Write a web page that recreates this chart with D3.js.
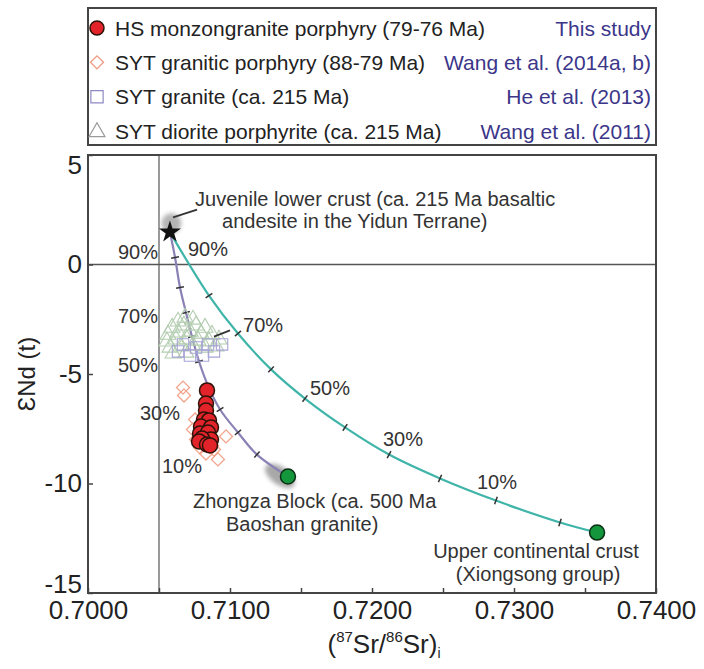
<!DOCTYPE html>
<html>
<head>
<meta charset="utf-8">
<script src="https://cdn.jsdelivr.net/npm/d3@7"></script>
<style>
  html, body { margin: 0; padding: 0; background: #fff; }
  svg { display: block; font-family: "Liberation Sans", Arial, sans-serif; }
</style>
</head>
<body>
<svg id="chart" width="704" height="669"></svg>
<script>
// ---- Sr–Nd isotope data: [(87Sr/86Sr)i, εNd(t)] ----
const hsMonzogranite = [
  [0.70838, -5.75], [0.70831, -6.35], [0.70831, -6.67], [0.70817, -7.08],
  [0.70852, -7.12], [0.70796, -7.40], [0.70866, -7.44], [0.70789, -7.72],
  [0.70845, -7.67], [0.70866, -7.99], [0.70803, -7.95], [0.70782, -8.08],
  [0.70838, -8.22], [0.70859, -8.26]
];
const sytGraniticPorphyry = [
  [0.70669, -5.62], [0.70676, -5.98], [0.70754, -7.08], [0.70739, -7.53],
  [0.70761, -7.99], [0.70789, -8.36], [0.70831, -8.63], [0.70887, -8.45],
  [0.70972, -7.85], [0.70915, -8.90], [0.70810, -7.81], [0.70873, -8.26]
];
const sytGranite = [
  [0.70634, -3.97], [0.70718, -4.16], [0.70810, -4.16], [0.70887, -3.97],
  [0.70944, -3.65], [0.70845, -3.65], [0.70761, -3.79], [0.70669, -3.65]
];
const sytDioritePorphyrite = [
  [0.70683, -2.33], [0.70634, -2.51], [0.70739, -2.42], [0.70592, -2.79],
  [0.70676, -2.69], [0.70761, -2.69], [0.70824, -2.79], [0.70563, -3.11],
  [0.70634, -3.01], [0.70718, -2.97], [0.70796, -3.06], [0.70873, -3.11],
  [0.70556, -3.42], [0.70620, -3.33], [0.70697, -3.33], [0.70775, -3.38],
  [0.70852, -3.42], [0.70923, -3.33], [0.70577, -3.70], [0.70655, -3.65],
  [0.70739, -3.61], [0.70824, -3.70], [0.70901, -3.65], [0.70599, -3.97],
  [0.70690, -3.93]
];

// End-members
const juvenileLowerCrust = [0.70577, 1.48];
const zhongzaBlock = [0.71408, -9.68];
const upperCrust = [0.73585, -12.24];

// Mixing curves, end-member to end-member at 10% steps
const mixToUpperCrust = [
  [0.70577, 1.48], [0.70852, -1.42], [0.71056, -3.15], [0.71289, -4.79],
  [0.71528, -6.12], [0.71810, -7.44], [0.72120, -8.68], [0.72479, -9.77],
  [0.72873, -10.78], [0.73324, -11.78], [0.73585, -12.24]
];
const mixToZhongza = [
  [0.70577, 1.48], [0.70613, 0.32], [0.70648, -1.05], [0.70690, -2.19],
  [0.70732, -3.29], [0.70782, -4.43], [0.70845, -5.53], [0.70930, -6.62],
  [0.71056, -7.67], [0.71190, -8.68], [0.71408, -9.68]
];

// Percentage labels along the curves
const zhongzaPctLabels = ["90%", "70%", "50%", "30%", "10%"];
const zhongzaPctAt = [[0.70493, 0.55], [0.70493, -2.33], [0.70493, -4.61], [0.70648, -6.76], [0.70803, -9.18]];
const crustPctLabels = ["90%", "70%", "50%", "30%", "10%"];
const crustPctAt = [[0.70704, 0.73], [0.71092, -2.74], [0.71563, -5.62], [0.72077, -7.99], [0.72739, -9.91]];

// Axis ticks
const xTicks = [0.700, 0.705, 0.710, 0.715, 0.720, 0.725, 0.730, 0.735, 0.740];
const yTicks = [5, 0, -5, -10, -15];

// Legend
const legendNames = [
  "HS monzongranite porphyry (79-76 Ma)",
  "SYT granitic porphyry (88-79 Ma)",
  "SYT granite (ca. 215 Ma)",
  "SYT diorite porphyrite (ca. 215 Ma)"
];
const legendRefs = ["This study", "Wang et al. (2014a, b)", "He et al. (2013)", "Wang et al. (2011)"];

// ---- layout ----
const svg = d3.select("#chart");
const L = 88, R = 656, T = 155, B = 593;
const x = d3.scaleLinear().domain([0.700, 0.740]).range([L, R]);
const y = d3.scaleLinear().domain([-15, 5]).range([B, T]);

const defs = svg.append("defs");
defs.append("filter").attr("id", "soft").attr("x", "-50%").attr("y", "-50%").attr("width", "200%").attr("height", "200%")
  .append("feGaussianBlur").attr("stdDeviation", 2.2);

// reference lines
svg.append("line").attr("x1", x(0.705)).attr("x2", x(0.705)).attr("y1", T).attr("y2", B)
  .attr("stroke", "#555").attr("stroke-width", 1.2);
svg.append("line").attr("x1", L).attr("x2", R).attr("y1", y(0)).attr("y2", y(0))
  .attr("stroke", "#555").attr("stroke-width", 1.5);

// axes
const fmtX = d3.format(".4f");
const xAxis = d3.axisBottom(x).tickValues(xTicks).tickSizeInner(-5).tickSizeOuter(0).tickPadding(8)
  .tickFormat((d, i) => (i % 2 === 0 ? fmtX(d) : ""));
const gx = svg.append("g").attr("transform", `translate(0,${B})`).call(xAxis);
const yAxis = d3.axisLeft(y).tickValues(yTicks).tickSizeInner(-5).tickSizeOuter(0).tickPadding(6)
  .tickFormat(d => (d < 0 ? "-" + Math.abs(d) : String(d)));
const gy = svg.append("g").attr("transform", `translate(${L},0)`).call(yAxis);
[gx, gy].forEach(g => {
  g.select(".domain").remove();
  g.selectAll(".tick line").attr("stroke", "#444").attr("stroke-width", 1.5);
  g.selectAll(".tick text").attr("fill", "#222").style("font-size", "26px")
    .style("font-family", "'Liberation Sans', Arial, sans-serif");
});
// end labels pulled inside the frame's span
gy.selectAll(".tick text").filter(d => d === 5).attr("y", 10);
gy.selectAll(".tick text").filter(d => d === -15).attr("y", -9);

// frame
svg.append("rect").attr("x", L).attr("y", T).attr("width", R - L).attr("height", B - T)
  .attr("fill", "none").attr("stroke", "#444").attr("stroke-width", 2);

// axis titles
const xt = svg.append("text").attr("x", 384).attr("y", 653).attr("text-anchor", "middle")
  .attr("fill", "#222").style("font-size", "26px");
xt.append("tspan").text("(");
xt.append("tspan").attr("dy", -11).style("font-size", "15px").text("87");
xt.append("tspan").attr("dy", 11).text("Sr/");
xt.append("tspan").attr("dy", -11).style("font-size", "15px").text("86");
xt.append("tspan").attr("dy", 11).text("Sr)");
xt.append("tspan").attr("dy", 5).style("font-size", "14px").text("i");

svg.append("text").attr("transform", `translate(35,${(T + B) / 2}) rotate(-90)`)
  .attr("text-anchor", "middle").attr("fill", "#222").style("font-size", "24px")
  .text("\u0190Nd (t)");

// grey halos around the end-member samples
svg.append("circle").attr("cx", x(0.70587)).attr("cy", y(1.88)).attr("r", 10)
  .attr("fill", "#b4b4b4").attr("filter", "url(#soft)");
svg.append("ellipse").attr("cx", 0).attr("cy", 0).attr("rx", 17).attr("ry", 9)
  .attr("transform", `translate(${x(0.71352)},${y(-9.65)}) rotate(35)`)
  .attr("fill", "#a8a8a8").attr("filter", "url(#soft)");

// mixing curves
const line = d3.line().x(d => x(d[0])).y(d => y(d[1])).curve(d3.curveCatmullRom.alpha(0.5));
function drawMix(pts, color) {
  svg.append("path").attr("d", line(pts)).attr("fill", "none").attr("stroke", color).attr("stroke-width", 2.2);
  const ticks = svg.append("g");
  for (let i = 1; i < pts.length - 1; i++) {
    const px = x(pts[i][0]), py = y(pts[i][1]);
    const dx = x(pts[i + 1][0]) - x(pts[i - 1][0]);
    const dy = y(pts[i + 1][1]) - y(pts[i - 1][1]);
    const len = Math.hypot(dx, dy);
    const nx = -dy / len, ny = dx / len;
    ticks.append("line").attr("x1", px - nx * 4).attr("y1", py - ny * 4)
      .attr("x2", px + nx * 4).attr("y2", py + ny * 4)
      .attr("stroke", "#333").attr("stroke-width", 1.5);
  }
}
drawMix(mixToZhongza, "#8a82b6");
drawMix(mixToUpperCrust, "#3fb5a9");

// SYT diorite porphyrite (open triangles)
const tri = d3.symbol(d3.symbolTriangle, 110);
svg.append("g").selectAll("path").data(sytDioritePorphyrite).join("path")
  .attr("d", tri).attr("transform", d => `translate(${x(d[0])},${y(d[1]) + 2})`)
  .attr("fill", "none").attr("stroke", "#b3cdb0").attr("stroke-width", 1.1);

// SYT granite (open squares)
const sq = d3.symbol(d3.symbolSquare, 130);
svg.append("g").selectAll("path").data(sytGranite).join("path")
  .attr("d", sq).attr("transform", d => `translate(${x(d[0])},${y(d[1])})`)
  .attr("fill", "none").attr("stroke", "#a7a3d6").attr("stroke-width", 1.1);

// SYT granitic porphyry (open diamonds)
const dia = d3.symbol(d3.symbolSquare, 85);
svg.append("g").selectAll("path").data(sytGraniticPorphyry).join("path")
  .attr("d", dia).attr("transform", d => `translate(${x(d[0])},${y(d[1])}) rotate(45)`)
  .attr("fill", "none").attr("stroke", "#f2a48c").attr("stroke-width", 1.3);

// HS monzongranite porphyry (filled red circles)
svg.append("g").selectAll("circle").data(hsMonzogranite).join("circle")
  .attr("cx", d => x(d[0])).attr("cy", d => y(d[1])).attr("r", 7.5)
  .attr("fill", "#e3232a").attr("stroke", "#2e1208").attr("stroke-width", 1.5);

// end-member markers
svg.append("path").attr("d", d3.symbol(d3.symbolStar, 150)())
  .attr("transform", `translate(${x(juvenileLowerCrust[0])},${y(juvenileLowerCrust[1])})`)
  .attr("fill", "#111");
[zhongzaBlock, upperCrust].forEach(p => {
  svg.append("circle").attr("cx", x(p[0])).attr("cy", y(p[1])).attr("r", 7.5)
    .attr("fill", "#13963c").attr("stroke", "#0c2f14").attr("stroke-width", 1.5);
});

// leader lines
svg.append("line").attr("x1", x(0.70599)).attr("y1", y(2.15)).attr("x2", x(0.70768)).attr("y2", y(2.51))
  .attr("stroke", "#333").attr("stroke-width", 1.8);
svg.append("line").attr("x1", x(0.70887)).attr("y1", y(-3.29)).attr("x2", x(0.71000)).attr("y2", y(-3.01))
  .attr("stroke", "#333").attr("stroke-width", 1.8);

// percentage labels
const pctStyle = s => s.attr("fill", "#333").style("font-size", "20px").attr("dominant-baseline", "central");
svg.append("g").selectAll("text").data(zhongzaPctLabels).join("text")
  .attr("x", (d, i) => x(zhongzaPctAt[i][0])).attr("y", (d, i) => y(zhongzaPctAt[i][1]))
  .attr("text-anchor", "end").text(d => d).call(pctStyle);
svg.append("g").selectAll("text").data(crustPctLabels).join("text")
  .attr("x", (d, i) => x(crustPctAt[i][0])).attr("y", (d, i) => y(crustPctAt[i][1]))
  .attr("text-anchor", "start").text(d => d).call(pctStyle);

// end-member annotations
const note = (tx, ty, str, anchor) => svg.append("text").attr("x", tx).attr("y", ty)
  .attr("text-anchor", anchor || "start").attr("dominant-baseline", "central")
  .attr("fill", "#333").style("font-size", "20px").text(str);
note(x(0.70754), y(3.01), "Juvenile lower crust (ca. 215 Ma basaltic");
note(x(0.70944), y(2.0), "andesite in the Yidun Terrane)");
note(x(0.70739), y(-10.82), "Zhongza Block (ca. 500 Ma");
note(x(0.70972), y(-11.87), "Baoshan granite)");
note(x(0.73155), y(-13.06), "Upper continental crust", "middle");
note(x(0.73170), y(-14.11), "(Xiongsong group)", "middle");

// ---- legend ----
const LG = { x0: 88, x1: 656, y0: 8, y1: 145 };
svg.append("rect").attr("x", LG.x0).attr("y", LG.y0).attr("width", LG.x1 - LG.x0).attr("height", LG.y1 - LG.y0)
  .attr("fill", "#fff").attr("stroke", "#444").attr("stroke-width", 2);
const rowY = d3.scalePoint().domain(d3.range(legendNames.length)).range([28, 131]);
const lg = svg.append("g");
legendNames.forEach((name, i) => {
  const cy = rowY(i);
  lg.append("text").attr("x", 115).attr("y", cy).attr("dominant-baseline", "central")
    .attr("fill", "#222").style("font-size", "21px").text(name);
  lg.append("text").attr("x", 651).attr("y", cy).attr("dominant-baseline", "central")
    .attr("text-anchor", "end").attr("fill", "#3b3689").style("font-size", "21px").text(legendRefs[i]);
});
lg.append("circle").attr("cx", 97).attr("cy", rowY(0)).attr("r", 7)
  .attr("fill", "#e3232a").attr("stroke", "#2e1208").attr("stroke-width", 1.5);
lg.append("path").attr("d", d3.symbol(d3.symbolSquare, 85)())
  .attr("transform", `translate(97,${rowY(1)}) rotate(45)`)
  .attr("fill", "none").attr("stroke", "#f09a82").attr("stroke-width", 1.3);
lg.append("path").attr("d", d3.symbol(d3.symbolSquare, 150)())
  .attr("transform", `translate(97,${rowY(2)})`)
  .attr("fill", "none").attr("stroke", "#8d89c2").attr("stroke-width", 1.2);
lg.append("path").attr("d", d3.symbol(d3.symbolTriangle, 110)())
  .attr("transform", `translate(97,${rowY(3) + 1})`)
  .attr("fill", "none").attr("stroke", "#9a9a9a").attr("stroke-width", 1.2);
</script>
</body>
</html>
